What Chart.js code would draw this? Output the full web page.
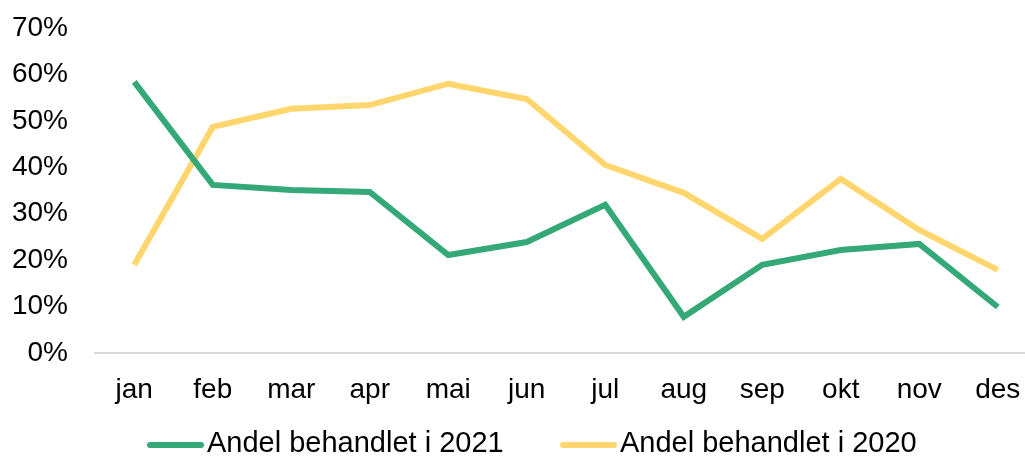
<!DOCTYPE html>
<html>
<head>
<meta charset="utf-8">
<script src="https://cdn.jsdelivr.net/npm/chart.js@4"></script>
<style>
  html, body { margin: 0; padding: 0; background: #fff; overflow: hidden; }
  #wrap { width: 1037px; height: 457px; }
</style>
</head>
<body>
<div id="wrap"><canvas id="lineChart"></canvas></div>
<script>
// Måneder
const maaneder = ['jan', 'feb', 'mar', 'apr', 'mai', 'jun', 'jul', 'aug', 'sep', 'okt', 'nov', 'des'];

// Andel behandlet (prosent)
const andel2021 = [58.4, 36.2, 35.1, 34.7, 21.1, 23.9, 31.9, 7.8, 19.0, 22.2, 23.5, 9.9];
const andel2020 = [19.0, 48.7, 52.6, 53.4, 58.0, 54.7, 40.5, 34.5, 24.6, 37.5, 26.5, 17.9];

const serieNavn = ['Andel behandlet i 2021', 'Andel behandlet i 2020'];
const yTicks = [0, 10, 20, 30, 40, 50, 60, 70];

const GRONN = '#35a878';
const GUL = '#ffd66e';
const FONT = '"Liberation Sans", Arial, sans-serif';

Chart.defaults.font.family = FONT;
Chart.defaults.color = '#000';

// Egen legende: kort linje + tekst, tett inntil hverandre
const legendePlugin = {
  id: 'legende',
  afterDraw: function(chart) {
    const ctx = chart.ctx;
    const startX = [147, 560];
    const y = 445;
    ctx.save();
    ctx.font = '29px ' + FONT;
    ctx.textBaseline = 'middle';
    chart.data.datasets.forEach((ds, i) => {
      const x = startX[i];
      ctx.strokeStyle = ds.borderColor;
      ctx.lineWidth = 6;
      ctx.lineCap = 'round';
      ctx.beginPath();
      ctx.moveTo(x + 3, y);
      ctx.lineTo(x + 54, y);
      ctx.stroke();
      ctx.fillStyle = '#000';
      ctx.fillText(ds.label, x + 60, y - 1);
    });
    ctx.restore();
  }
};

new Chart(document.getElementById('lineChart'), {
  type: 'line',
  data: {
    labels: maaneder,
    datasets: [
      {
        label: serieNavn[0],
        data: andel2021,
        borderColor: GRONN,
        backgroundColor: GRONN,
        borderWidth: 6,
        pointRadius: 0,
        tension: 0
      },
      {
        label: serieNavn[1],
        data: andel2020,
        borderColor: GUL,
        backgroundColor: GUL,
        borderWidth: 6,
        pointRadius: 0,
        tension: 0
      }
    ]
  },
  options: {
    responsive: true,
    maintainAspectRatio: false,
    animation: false,
    layout: { padding: { top: 28, left: 0, right: 0, bottom: 0 } },
    plugins: {
      tooltip: { enabled: false },
      legend: { display: false }
    },
    scales: {
      x: {
        offset: true,
        afterFit: function(axis) {
          axis.height = 104;
          axis.paddingLeft = 0;
          axis.paddingRight = 0;
        },
        grid: { display: false, drawTicks: false },
        border: { display: true, color: '#d9d9d9', width: 2 },
        ticks: { padding: 20, font: { size: 28 }, color: '#000' }
      },
      y: {
        min: 0,
        max: 70,
        afterBuildTicks: function(axis) {
          axis.ticks = yTicks.map(v => ({ value: v }));
        },
        afterFit: function(axis) {
          axis.width = 95;
          axis.paddingTop = 0;
          axis.paddingBottom = 0;
        },
        grid: { display: false, drawTicks: false },
        border: { display: false },
        ticks: {
          padding: 27,
          font: { size: 28 },
          color: '#000',
          callback: function(value) {
            return value + '%';
          }
        }
      }
    }
  },
  plugins: [legendePlugin]
});
</script>
</body>
</html>
